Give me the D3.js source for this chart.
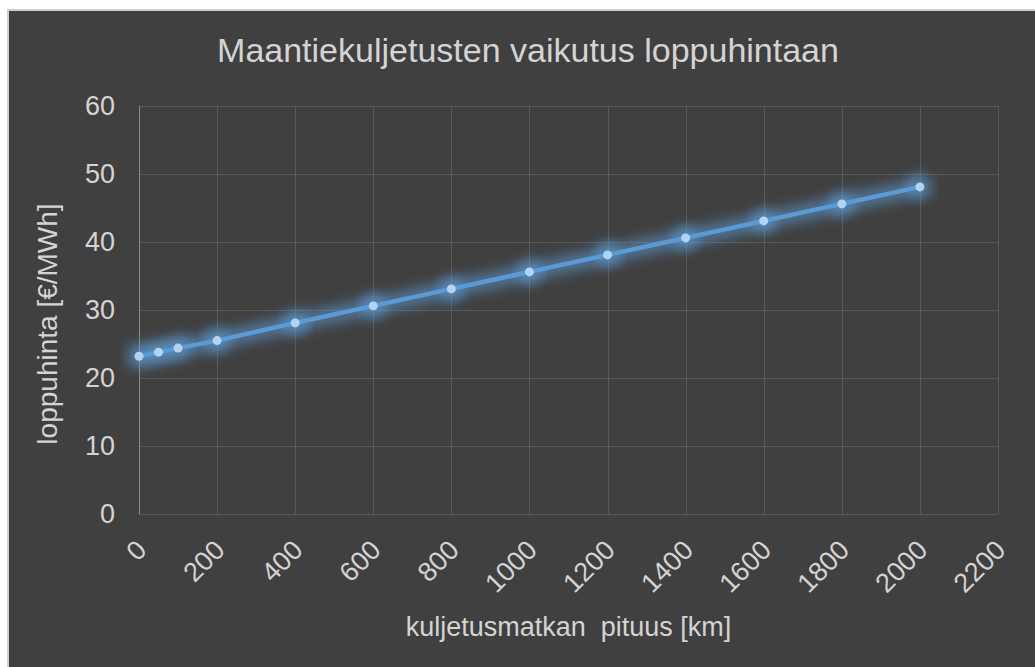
<!DOCTYPE html>
<html>
<head>
<meta charset="utf-8">
<script src="https://cdn.jsdelivr.net/npm/d3@7"></script>
<style>
  html, body { margin: 0; padding: 0; background: #ffffff; }
  svg { display: block; font-family: "Liberation Sans", Arial, sans-serif; }
</style>
</head>
<body>
<svg id="chart" width="1035" height="667"></svg>
<script>
"use strict";

// DATA
const distances = [0, 50, 100, 200, 400, 600, 800, 1000, 1200, 1400, 1600, 1800, 2000];
const prices = [23.2, 23.8, 24.4, 25.5, 28.1, 30.6, 33.1, 35.6, 38.1, 40.6, 43.1, 45.6, 48.1];
const xTicks = [0, 200, 400, 600, 800, 1000, 1200, 1400, 1600, 1800, 2000, 2200];
const yTicks = [0, 10, 20, 30, 40, 50, 60];

const titleText = "Maantiekuljetusten vaikutus loppuhintaan";
const xTitle = "kuljetusmatkan  pituus [km]";
const yTitle = "loppuhinta [€/MWh]";

const width = 1035;
const height = 667;
const margin = { left: 139, right: 37, top: 106, bottom: 153 };

const textColor = "#d4d4d4";
const gridColor = "#595959";
const lineColor = "#5b9bd5";

const svg = d3.select("#chart");

// panel background
svg.append("rect")
	.attr("x", 8)
	.attr("y", 10)
	.attr("width", width)
	.attr("height", height)
	.attr("fill", "#404040")
	.attr("stroke", "#d0d0d0")
	.attr("stroke-width", 2);

// glow filter for line and markers
const defs = svg.append("defs");
const glow = defs.append("filter")
	.attr("id", "glow")
	.attr("x", "-20%").attr("y", "-50%")
	.attr("width", "140%").attr("height", "200%");
glow.append("feGaussianBlur")
	.attr("in", "SourceGraphic")
	.attr("stdDeviation", 6);

const x = d3.scaleLinear()
	.domain([0, 2200])
	.range([margin.left, width - margin.right]);

const y = d3.scaleLinear()
	.domain([0, 60])
	.range([height - margin.bottom, margin.top]);

// Gridlines
svg.append("g")
	.selectAll("line")
	.data(yTicks)
	.join("line")
	.attr("x1", x(0))
	.attr("x2", x(2200))
	.attr("y1", (d) => Math.round(y(d)) + 0.5)
	.attr("y2", (d) => Math.round(y(d)) + 0.5)
	.attr("stroke", gridColor)
	.attr("stroke-width", 1);

svg.append("g")
	.selectAll("line")
	.data(xTicks)
	.join("line")
	.attr("x1", (d) => Math.round(x(d)) + 0.5)
	.attr("x2", (d) => Math.round(x(d)) + 0.5)
	.attr("y1", y(60))
	.attr("y2", y(0))
	.attr("stroke", (d) => (d === 0 ? "#8a8a8a" : gridColor))
	.attr("stroke-width", 1);

// Y axis tick labels
const yAxis = svg.append("g")
	.attr("transform", `translate(${x(0)},0)`)
	.call(d3.axisLeft(y).tickValues(yTicks).tickSize(0).tickPadding(24));
yAxis.select(".domain").remove();
yAxis.selectAll("text")
	.attr("fill", textColor)
	.attr("font-size", 27)
	.attr("font-family", "Liberation Sans, Arial, sans-serif");

// X axis tick labels (rotated)
const xAxis = svg.append("g")
	.attr("transform", `translate(0,${y(0)})`)
	.call(d3.axisBottom(x).tickValues(xTicks).tickSize(0).tickFormat(d3.format("d")));
xAxis.select(".domain").remove();
xAxis.selectAll("text")
	.attr("fill", textColor)
	.attr("font-size", 27)
	.attr("font-family", "Liberation Sans, Arial, sans-serif")
	.attr("text-anchor", "end")
	.attr("x", 0)
	.attr("y", 0)
	.attr("dy", "0.35em")
	.attr("transform", "translate(2,31) rotate(-45)");

// Title
svg.append("text")
	.attr("x", 528)
	.attr("y", 62)
	.attr("text-anchor", "middle")
	.attr("fill", textColor)
	.attr("font-size", 34)
	.text(titleText);

// Axis titles
svg.append("text")
	.attr("x", (x(0) + x(2200)) / 2)
	.attr("y", 636)
	.attr("text-anchor", "middle")
	.attr("fill", textColor)
	.attr("font-size", 27)
	.style("white-space", "pre")
	.text(xTitle);

svg.append("text")
	.attr("transform", "translate(57,324) rotate(-90)")
	.attr("text-anchor", "middle")
	.attr("fill", textColor)
	.attr("font-size", 28)
	.text(yTitle);

// Series
const points = distances.map((d, i) => ({ km: d, price: prices[i] }));

const line = d3.line()
	.x((d) => x(d.km))
	.y((d) => y(d.price));

const series = svg.append("g");

// glow copies
series.append("path")
	.datum(points)
	.attr("d", line)
	.attr("fill", "none")
	.attr("stroke", lineColor)
	.attr("stroke-width", 18)
	.attr("stroke-opacity", 0.55)
	.attr("filter", "url(#glow)");

series.append("g")
	.selectAll("circle")
	.data(points)
	.join("circle")
	.attr("cx", (d) => x(d.km))
	.attr("cy", (d) => y(d.price))
	.attr("r", 13)
	.attr("fill", lineColor)
	.attr("fill-opacity", 0.55)
	.attr("filter", "url(#glow)");

// main line
series.append("path")
	.datum(points)
	.attr("d", line)
	.attr("fill", "none")
	.attr("stroke", lineColor)
	.attr("stroke-width", 4.5)
	.attr("stroke-linejoin", "round");

// markers
series.append("g")
	.selectAll("circle")
	.data(points)
	.join("circle")
	.attr("cx", (d) => x(d.km))
	.attr("cy", (d) => y(d.price))
	.attr("r", 4.5)
	.attr("fill", "#b3d3f2");
</script>
</body>
</html>
